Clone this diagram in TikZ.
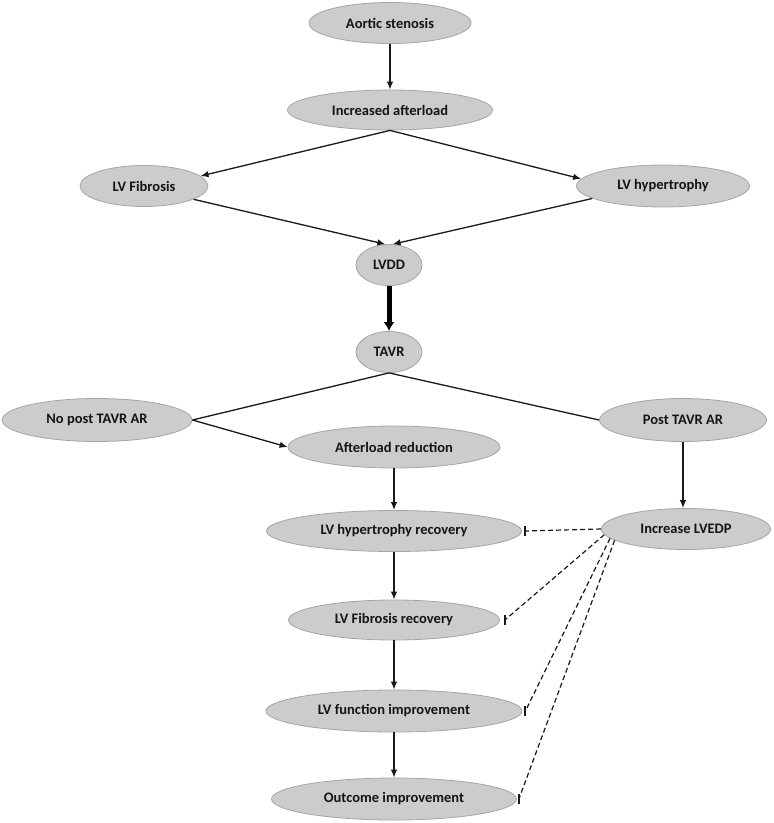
\documentclass[tikz,border=0pt]{standalone}
\usepackage{fontspec}
\setmainfont{Carlito}
\usetikzlibrary{shapes.geometric,arrows.meta,calc}
\definecolor{ellfill}{RGB}{204,204,204}
\definecolor{ellline}{RGB}{165,165,165}
\definecolor{txt}{RGB}{20,20,20}
\tikzset{
  ell/.style={ellipse, draw=ellline, line width=0.8pt, fill=ellfill, inner sep=0pt,
    font=\fontsize{14.5}{17}\selectfont\bfseries, text=txt},
  arr/.style={line width=1.3pt, -{Latex[length=8pt,width=6.5pt]}, draw=black!90},
  plain/.style={line width=1.3pt, draw=black!90},
  thickarr/.style={line width=5pt, -{Latex[length=9pt,width=11pt]}, draw=black},
  inhib/.style={line width=1.2pt, dash pattern=on 5pt off 3pt, draw=black!90},
  barmark/.style={line width=2pt, draw=black!90}
}
\begin{document}
\begin{tikzpicture}[x=1pt,y=-1pt]
\useasboundingbox (0,0) rectangle (774,823);
% nodes
\node[ell, minimum width=162pt, minimum height=41pt] (as) at (390,23) {Aortic stenosis};
\node[ell, minimum width=205pt, minimum height=40pt] (ia) at (390,110) {Increased afterload};
\node[ell, minimum width=128pt, minimum height=41pt] (lvf) at (144,186) {LV Fibrosis};
\node[ell, minimum width=173pt, minimum height=42pt] (lvh) at (663,186) {LV hypertrophy};
\node[ell, minimum width=66pt, minimum height=41pt] (lvdd) at (389,265) {LVDD};
\node[ell, minimum width=66pt, minimum height=41pt] (tavr) at (389,352) {TAVR};
\node[ell, minimum width=190pt, minimum height=43pt] (np) at (97,420) {No post TAVR AR};
\node[ell, minimum width=167pt, minimum height=43pt] (pt) at (683,420) {Post TAVR AR};
\node[ell, minimum width=212pt, minimum height=42pt] (ar) at (394,447) {Afterload reduction};
\node[ell, minimum width=255pt, minimum height=41pt] (hr) at (394,531) {LV hypertrophy recovery};
\node[ell, minimum width=169pt, minimum height=41pt] (ilv) at (686,529) {Increase LVEDP};
\node[ell, minimum width=211pt, minimum height=40pt] (fr) at (394,620) {LV Fibrosis recovery};
\node[ell, minimum width=256pt, minimum height=42pt] (fi) at (394,711) {LV function improvement};
\node[ell, minimum width=245pt, minimum height=42pt] (oi) at (394,799) {Outcome improvement};
% connectors
\draw[arr] (as) -- (ia);
\draw[arr] (ia.south) -- (lvf.10);
\draw[arr] (ia.south) -- (lvh.175);
\draw[arr] (lvf.-15) -- (lvdd.100);
\draw[arr] (lvh.190) -- (lvdd.80);
\draw[thickarr] (lvdd) -- (tavr);
\draw[plain] (tavr.south) -- (np.east);
\draw[plain] (tavr.south) -- (pt.west);
\draw[arr] (np.east) -- (ar.west);
\draw[arr] (ar) -- (hr);
\draw[arr] (hr) -- (fr);
\draw[arr] (fr) -- (fi);
\draw[arr] (fi) -- (oi);
\draw[arr] (pt.south) -- (pt.south |- ilv.north);
% inhibitory dashed connectors
\coordinate (b1) at ($(hr.east)+(3,0)$);
\coordinate (b2) at ($(fr.east)+(5,0)$);
\coordinate (b3) at ($(fi.east)+(3,0)$);
\coordinate (b4) at ($(oi.east)+(2,0)$);
\draw[inhib] (ilv.west) -- (b1);
\draw[inhib] (ilv.184) -- (b2);
\draw[inhib] (ilv.187) -- (b3);
\draw[inhib] (ilv.189) -- (b4);
\foreach \b in {b1,b2,b3,b4}
  \draw[barmark] ($(\b)+(0,-5)$) -- ($(\b)+(0,5)$);
\end{tikzpicture}
\end{document}
